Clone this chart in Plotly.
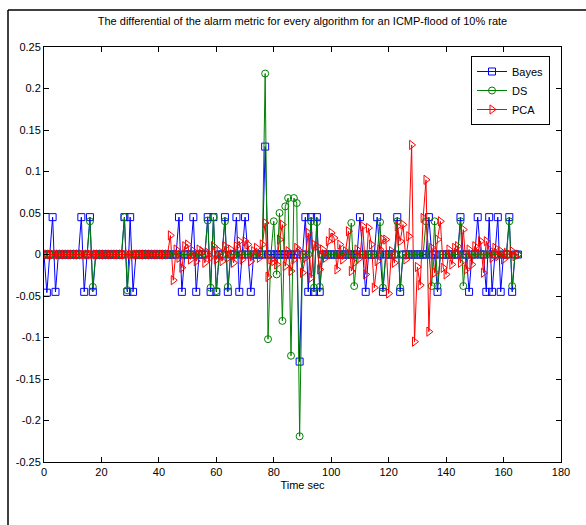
import plotly.graph_objects as go

# Time axis: one sample per second
time_sec = list(range(166))

# Differential of the alarm metric, Bayes detector
bayes = [
    0.000, -0.046, 0.000, 0.045, -0.045, 0.000, 0.000, 0.000, 0.000, 0.000,   # 0-9
    0.000, 0.000, 0.000, 0.045, -0.045, 0.000, 0.045, -0.045, 0.000, 0.000,   # 10-19
    0.000, 0.000, 0.000, 0.000, 0.000, 0.000, 0.000, 0.000, 0.045, -0.045,    # 20-29
    0.045, -0.045, 0.000, 0.000, 0.000, 0.000, 0.000, 0.000, 0.000, 0.000,    # 30-39
    0.000, 0.000, 0.000, 0.000, 0.000, 0.000, 0.000, 0.045, -0.045, 0.000,    # 40-49
    0.000, 0.000, 0.045, -0.045, 0.000, 0.000, 0.000, 0.045, -0.045, 0.045,   # 50-59
    -0.045, 0.000, 0.000, 0.045, -0.045, 0.000, 0.000, 0.045, -0.045, 0.000,  # 60-69
    0.045, 0.000, -0.045, 0.000, 0.000, 0.000, 0.000, 0.130, 0.000, 0.000,    # 70-79
    0.000, 0.000, 0.000, 0.000, 0.000, 0.000, 0.000, 0.000, 0.000, -0.129,    # 80-89
    0.000, 0.045, -0.045, 0.045, -0.045, 0.045, -0.045, 0.000, 0.000, 0.000,  # 90-99
    0.000, 0.000, 0.000, 0.000, 0.000, 0.000, 0.000, 0.000, 0.000, 0.000,     # 100-109
    0.045, 0.000, -0.045, 0.000, 0.000, 0.000, 0.045, 0.000, -0.045, 0.000,   # 110-119
    0.000, 0.000, 0.000, 0.045, -0.045, 0.000, 0.000, 0.000, 0.000, 0.000,    # 120-129
    0.000, 0.000, 0.000, 0.000, 0.045, 0.000, 0.000, -0.045, 0.000, 0.000,    # 130-139
    0.000, 0.000, 0.000, 0.000, 0.000, 0.045, 0.000, 0.000, -0.045, 0.000,    # 140-149
    0.000, 0.045, 0.000, 0.000, -0.045, 0.045, -0.045, 0.000, 0.045, -0.045,  # 150-159
    0.000, 0.000, 0.045, -0.045, 0.000, 0.000,                                # 160-165
]

# Differential of the alarm metric, Dempster-Shafer detector
ds = [
    0.000, 0.000, 0.000, 0.000, 0.000, 0.000, 0.000, 0.000, 0.000, 0.000,     # 0-9
    0.000, 0.000, 0.000, 0.000, 0.000, 0.000, 0.040, -0.039, 0.000, 0.000,    # 10-19
    0.000, 0.000, 0.000, 0.000, 0.000, 0.000, 0.000, 0.000, 0.045, -0.043,    # 20-29
    0.000, 0.000, 0.000, 0.000, 0.000, 0.000, 0.000, 0.000, 0.000, 0.000,     # 30-39
    0.000, 0.000, 0.000, 0.000, 0.000, 0.000, 0.000, 0.000, 0.000, 0.000,     # 40-49
    0.000, 0.000, 0.000, 0.000, 0.000, 0.000, 0.000, 0.041, -0.040, 0.045,    # 50-59
    -0.044, 0.000, 0.000, 0.040, -0.039, 0.000, 0.000, 0.000, 0.000, 0.000,   # 60-69
    0.000, 0.000, 0.000, 0.000, 0.000, 0.000, 0.000, 0.218, -0.102, 0.000,    # 70-79
    0.040, -0.024, 0.050, -0.080, 0.058, 0.068, -0.122, 0.068, 0.062, -0.219, # 80-89
    0.000, 0.000, 0.000, 0.040, -0.040, 0.039, -0.039, 0.000, 0.000, 0.000,   # 90-99
    0.000, 0.000, 0.000, 0.000, 0.000, 0.000, 0.000, 0.038, -0.038, 0.000,    # 100-109
    0.000, 0.000, 0.000, 0.000, 0.000, 0.000, 0.000, 0.039, -0.040, 0.000,    # 110-119
    0.000, 0.000, 0.000, 0.040, -0.040, 0.000, 0.000, 0.000, 0.000, 0.000,    # 120-129
    0.000, 0.000, 0.000, 0.040, 0.000, -0.038, 0.040, -0.038, 0.000, 0.000,   # 130-139
    0.000, 0.000, 0.000, 0.000, 0.000, 0.040, -0.038, 0.000, 0.000, 0.000,    # 140-149
    0.000, 0.000, 0.000, 0.000, 0.000, 0.000, 0.000, 0.000, 0.000, 0.000,     # 150-159
    0.000, 0.000, 0.040, -0.038, 0.000, 0.000,                                # 160-165
]

# Differential of the alarm metric, PCA detector
pca = [
    0.000, 0.000, 0.000, 0.000, 0.000, 0.000, 0.000, 0.000, 0.000, 0.000,     # 0-9
    0.000, 0.000, 0.000, 0.000, 0.000, 0.000, 0.000, 0.000, 0.000, 0.000,     # 10-19
    0.000, 0.000, 0.000, 0.000, 0.000, 0.000, 0.000, 0.000, 0.000, 0.000,     # 20-29
    0.000, 0.000, 0.000, 0.000, 0.000, 0.000, 0.000, 0.000, 0.000, 0.000,     # 30-39
    0.000, 0.000, 0.000, 0.000, 0.023, -0.031, 0.006, -0.004, -0.016, 0.010,  # 40-49
    0.012, -0.006, 0.004, -0.008, 0.006, 0.004, -0.010, 0.002, -0.003, 0.010, # 50-59
    -0.006, 0.004, -0.008, 0.010, -0.004, 0.006, -0.010, 0.010, 0.016, -0.006,# 60-69
    0.016, 0.012, -0.008, 0.004, 0.008, -0.004, 0.012, 0.038, -0.027, -0.006, # 70-79
    -0.008, -0.012, 0.018, 0.036, -0.014, 0.004, -0.020, -0.006, 0.008, 0.004,# 80-89
    -0.022, -0.004, 0.026, -0.028, 0.012, 0.010, -0.018, 0.006, -0.004, 0.016,# 90-99
    0.026, 0.020, -0.018, 0.012, -0.006, 0.004, 0.028, -0.020, -0.010, 0.006, # 100-109
    -0.004, 0.034, -0.024, 0.032, 0.012, -0.040, -0.008, 0.006, 0.018, 0.018, # 110-119
    -0.047, 0.004, -0.010, 0.034, 0.016, 0.036, -0.006, 0.022, 0.132, -0.105, # 120-129
    -0.015, -0.037, 0.044, 0.090, -0.093, 0.008, -0.022, 0.018, 0.040, -0.016,# 130-139
    -0.024, 0.006, -0.012, 0.008, 0.010, -0.010, 0.030, -0.018, 0.006, -0.012,# 140-149
    0.010, 0.002, 0.016, -0.022, 0.016, 0.006, -0.004, 0.008, -0.002, 0.004,  # 150-159
    -0.006, 0.002, 0.000, 0.004, -0.002, 0.000,                               # 160-165
]

x_ticks = [0, 20, 40, 60, 80, 100, 120, 140, 160, 180]
y_ticks = [-0.25, -0.2, -0.15, -0.1, -0.05, 0, 0.05, 0.1, 0.15, 0.2, 0.25]
y_tick_text = ["-0.25", "-0.2", "-0.15", "-0.1", "-0.05", "0",
               "0.05", "0.1", "0.15", "0.2", "0.25"]

FONT = "Liberation Sans, Arial, sans-serif"

fig = go.Figure()
fig.add_trace(go.Scatter(
    x=time_sec, y=bayes, name="Bayes", mode="lines+markers",
    line=dict(color="#0000ff", width=1),
    marker=dict(symbol="square-open", size=7, color="#0000ff", line=dict(width=1)),
))
fig.add_trace(go.Scatter(
    x=time_sec, y=ds, name="DS", mode="lines+markers",
    line=dict(color="#008000", width=1),
    marker=dict(symbol="circle-open", size=7, color="#008000", line=dict(width=1)),
))
fig.add_trace(go.Scatter(
    x=time_sec, y=pca, name="PCA", mode="lines+markers",
    line=dict(color="#ff0000", width=1),
    marker=dict(symbol="triangle-right-open", size=8, color="#ff0000", line=dict(width=1)),
))

L, R, T, B = 44, 25, 47, 63
W, H = 586, 525
pw, ph = W - L - R, H - T - B


def px(xp):
    return (xp - L) / pw


def py(yp):
    return 1 - (yp - T) / ph


axis_common = dict(
    showline=True, linecolor="black", linewidth=1, mirror="ticks",
    ticks="inside", ticklen=5, tickcolor="black", tickwidth=1,
    showgrid=False, zeroline=False,
    tickfont=dict(family=FONT, size=11, color="black"),
)

fig.update_layout(
    width=W, height=H,
    margin=dict(l=L, r=R, t=T, b=B),
    paper_bgcolor="white", plot_bgcolor="white",
    title=dict(
        text="The differential of the alarm metric for every algorithm for an ICMP-flood of 10% rate",
        font=dict(family=FONT, size=11, color="black"),
        x=0.5, xref="paper", xanchor="center",
        y=1 - 21 / H, yanchor="middle",
    ),
    xaxis=dict(axis_common, range=[0, 180], tickvals=x_ticks,
               title=dict(text="Time sec", font=dict(family=FONT, size=11, color="black"),
                          standoff=4)),
    yaxis=dict(axis_common, range=[-0.25, 0.25], tickvals=y_ticks, ticktext=y_tick_text),
    legend=dict(
        x=px(550), y=py(56), xanchor="right", yanchor="top",
        bgcolor="white", bordercolor="black", borderwidth=1,
        font=dict(family=FONT, size=11, color="black"),
        tracegroupgap=0,
    ),
    showlegend=True,
    shapes=[
        # figure frame
        dict(type="line", xref="paper", yref="paper",
             x0=px(8), x1=px(600), y0=py(10), y1=py(10),
             line=dict(color="black", width=1.5)),
        dict(type="line", xref="paper", yref="paper",
             x0=px(8), x1=px(8), y0=py(10), y1=py(540),
             line=dict(color="black", width=1.5)),
    ],
)

fig.write_html("out.html")
